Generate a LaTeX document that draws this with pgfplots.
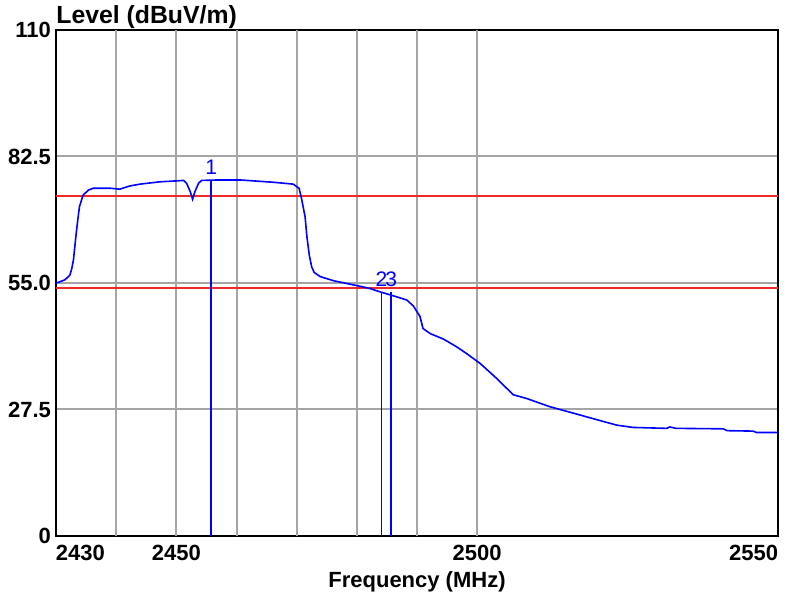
\documentclass[border=0pt]{standalone}
\usepackage{fontspec}
\setmainfont{Liberation Sans}
\usepackage{pgfplots}
\pgfplotsset{compat=1.18}
\definecolor{gridgray}{RGB}{165,165,165}
\definecolor{tracered}{RGB}{240,40,40}
\begin{document}
\begin{tikzpicture}
\begin{axis}[
  scale only axis,
  width=361pt, height=253pt,
  xmin=2430, xmax=2550, ymin=0, ymax=110,
  axis line style={black, line width=1pt},
  major tick length=0pt,
  xtick={2430,2450,2500,2550},
  xticklabels={\makebox[0pt][l]{2430},2450,2500,\makebox[0pt][r]{2550}},
  extra x ticks={2440,2450,2460,2470,2480,2490,2500},
  extra x tick labels={},
  extra x tick style={grid=major, major tick length=0pt},
  ytick={0,27.5,55,82.5,110},
  yticklabels={0,27.5,55.0,82.5,110},
  ymajorgrids=true,
  grid style={gridgray, line width=1pt},
  tick label style={font=\fontsize{11}{13}\selectfont\bfseries},
  xticklabel style={yshift=-1pt},
  yticklabel style={xshift=1pt},
  xlabel={Frequency (MHz)},
  xlabel style={font=\fontsize{11}{13}\selectfont\bfseries, yshift=1.5pt},
  clip=false,
]
\addplot[tracered, line width=1pt] coordinates {(2430,74) (2550,74)};
\addplot[tracered, line width=1pt] coordinates {(2430,54) (2550,54)};
\addplot[blue, line width=0.8pt] coordinates {
(2430.0,55.0) (2430.5,55.2) (2431.5,55.7) (2432.3,56.7) (2432.6,58.0) (2432.9,60.0)
(2433.3,65.1) (2433.6,68.5) (2433.9,71.6) (2434.5,74.1) (2435.4,75.2) (2436.2,75.6)
(2439.0,75.6) (2440.6,75.4) (2442.3,76.1) (2444.0,76.5) (2447.3,77.0) (2450.1,77.2)
(2451.2,77.3) (2451.7,76.7) (2452.3,74.9) (2452.7,73.2) (2453.1,74.9) (2453.7,76.7)
(2454.2,77.3) (2457.0,77.4) (2460.6,77.4) (2462.8,77.2) (2466.1,76.9) (2469.4,76.5)
(2470.4,75.6) (2470.8,73.4) (2471.4,69.4) (2471.7,65.1) (2472.1,61.0) (2472.5,58.5)
(2472.9,57.3) (2473.9,56.4) (2476.1,55.5) (2478.3,54.9) (2480.5,54.3) (2482.2,53.8)
(2483.8,53.1) (2486.1,52.2) (2488.3,51.3) (2489.4,50.0) (2490.5,47.7) (2491.0,45.1)
(2492.2,44.0) (2494.4,42.8) (2496.5,41.2) (2498.2,39.7) (2500.5,37.5) (2503.2,34.3)
(2506.0,30.7) (2508.2,29.9) (2512.1,28.1) (2516.0,26.7) (2520.4,25.1) (2523.2,24.1)
(2525.9,23.6) (2531.5,23.4) (2532.0,23.7) (2533.1,23.4) (2540.9,23.3) (2541.5,22.9)
(2545.9,22.8) (2546.4,22.5) (2550.0,22.5)
};
\addplot[blue, line width=0.8pt, ycomb, mark=none,
  nodes near coords, point meta=explicit symbolic,
  every node near coord/.style={anchor=south, inner sep=1pt, yshift=1.5pt,
    font=\fontsize{10.5}{12}\selectfont, text=blue}]
  coordinates {(2455.8,77.4) [1] (2484.1,53.0) [2] (2485.7,53.0) [3]};
\node[anchor=south west, inner sep=0pt, yshift=0.5pt,
  font=\fontsize{12.4}{14}\selectfont\bfseries] at (rel axis cs:0,1) {Level (dBuV/m)};
\end{axis}
\path (current axis.south west) ++(-28pt,-31pt) coordinate (bbA);
\path (current axis.north east) ++(9.5pt,15pt) coordinate (bbB);
\path (bbA) rectangle (bbB);
\end{tikzpicture}
\end{document}
